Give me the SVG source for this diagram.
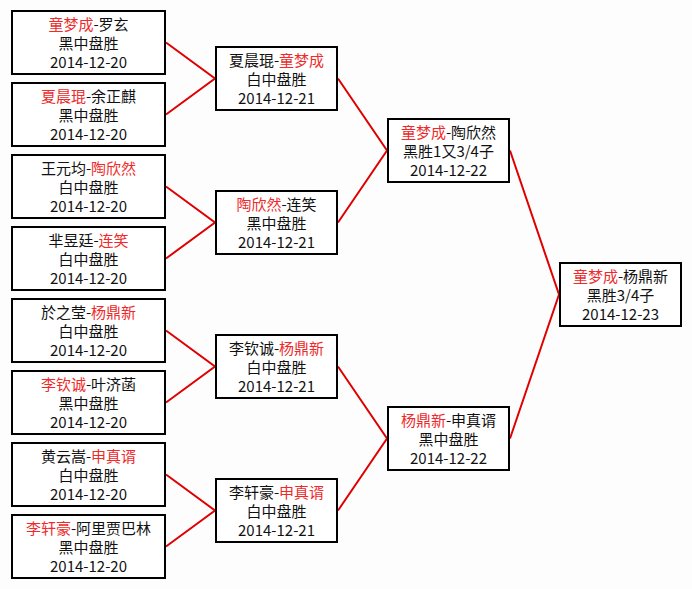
<svg xmlns="http://www.w3.org/2000/svg" width="692" height="589" viewBox="0 0 692 589">
<style>
.box{fill:#ffffff;stroke:#000000;stroke-width:2}
text{font-family:"Noto Sans CJK SC","Noto Sans CJK TC",sans-serif;font-size:15px;fill:#111111;text-anchor:middle}
.w{fill:#ee2a2a}
.c{fill:none;stroke:#e00000;stroke-width:2}
</style>
<rect x="0" y="0" width="692" height="589" fill="#fdfdfd"/>
<g id="connectors">
<polyline class="c" points="166,42.5 215,78.5 166,114.5"/>
<polyline class="c" points="166,186.5 215,222.5 166,258.5"/>
<polyline class="c" points="166,330.5 215,366.5 166,402.5"/>
<polyline class="c" points="166,474.5 215,510.5 166,546.5"/>
<polyline class="c" points="338,78.5 387,150.5 338,222.5"/>
<polyline class="c" points="338,366.5 387,438.5 338,510.5"/>
<polyline class="c" points="510,150.5 559,294.5 510,438.5"/>
</g>
<g id="r1-1"><rect class="box" x="12" y="11" width="153" height="63"/>
<text x="88.5" y="30"><tspan class="w">童梦成</tspan>-罗玄</text><text x="88.5" y="49">黑中盘胜</text><text x="88.5" y="68">2014-12-20</text></g>
<g id="r1-2"><rect class="box" x="12" y="83" width="153" height="63"/>
<text x="88.5" y="102"><tspan class="w">夏晨琨</tspan>-余正麒</text><text x="88.5" y="121">黑中盘胜</text><text x="88.5" y="140">2014-12-20</text></g>
<g id="r1-3"><rect class="box" x="12" y="155" width="153" height="63"/>
<text x="88.5" y="174">王元均-<tspan class="w">陶欣然</tspan></text><text x="88.5" y="193">白中盘胜</text><text x="88.5" y="212">2014-12-20</text></g>
<g id="r1-4"><rect class="box" x="12" y="227" width="153" height="63"/>
<text x="88.5" y="246">芈昱廷-<tspan class="w">连笑</tspan></text><text x="88.5" y="265">白中盘胜</text><text x="88.5" y="284">2014-12-20</text></g>
<g id="r1-5"><rect class="box" x="12" y="299" width="153" height="63"/>
<text x="88.5" y="318">於之莹-<tspan class="w">杨鼎新</tspan></text><text x="88.5" y="337">白中盘胜</text><text x="88.5" y="356">2014-12-20</text></g>
<g id="r1-6"><rect class="box" x="12" y="371" width="153" height="63"/>
<text x="88.5" y="390"><tspan class="w">李钦诚</tspan>-叶济菡</text><text x="88.5" y="409">黑中盘胜</text><text x="88.5" y="428">2014-12-20</text></g>
<g id="r1-7"><rect class="box" x="12" y="443" width="153" height="63"/>
<text x="88.5" y="462">黄云嵩-<tspan class="w">申真谞</tspan></text><text x="88.5" y="481">白中盘胜</text><text x="88.5" y="500">2014-12-20</text></g>
<g id="r1-8"><rect class="box" x="12" y="515" width="153" height="63"/>
<text x="88.5" y="534"><tspan class="w">李轩豪</tspan>-阿里贾巴林</text><text x="88.5" y="553">黑中盘胜</text><text x="88.5" y="572">2014-12-20</text></g>
<g id="r2-1"><rect class="box" x="216" y="47" width="121" height="63"/>
<text x="276.5" y="66">夏晨琨-<tspan class="w">童梦成</tspan></text><text x="276.5" y="85">白中盘胜</text><text x="276.5" y="104">2014-12-21</text></g>
<g id="r2-2"><rect class="box" x="216" y="191" width="121" height="63"/>
<text x="276.5" y="210"><tspan class="w">陶欣然</tspan>-连笑</text><text x="276.5" y="229">黑中盘胜</text><text x="276.5" y="248">2014-12-21</text></g>
<g id="r2-3"><rect class="box" x="216" y="335" width="121" height="63"/>
<text x="276.5" y="354">李钦诚-<tspan class="w">杨鼎新</tspan></text><text x="276.5" y="373">白中盘胜</text><text x="276.5" y="392">2014-12-21</text></g>
<g id="r2-4"><rect class="box" x="216" y="479" width="121" height="63"/>
<text x="276.5" y="498">李轩豪-<tspan class="w">申真谞</tspan></text><text x="276.5" y="517">白中盘胜</text><text x="276.5" y="536">2014-12-21</text></g>
<g id="r3-1"><rect class="box" x="388" y="119" width="121" height="63"/>
<text x="448.5" y="138"><tspan class="w">童梦成</tspan>-陶欣然</text><text x="448.5" y="157">黑胜1又3/4子</text><text x="448.5" y="176">2014-12-22</text></g>
<g id="r3-2"><rect class="box" x="388" y="407" width="121" height="63"/>
<text x="448.5" y="426"><tspan class="w">杨鼎新</tspan>-申真谞</text><text x="448.5" y="445">黑中盘胜</text><text x="448.5" y="464">2014-12-22</text></g>
<g id="final"><rect class="box" x="560" y="263" width="121" height="63"/>
<text x="620.5" y="282"><tspan class="w">童梦成</tspan>-杨鼎新</text><text x="620.5" y="301">黑胜3/4子</text><text x="620.5" y="320">2014-12-23</text></g>
</svg>
